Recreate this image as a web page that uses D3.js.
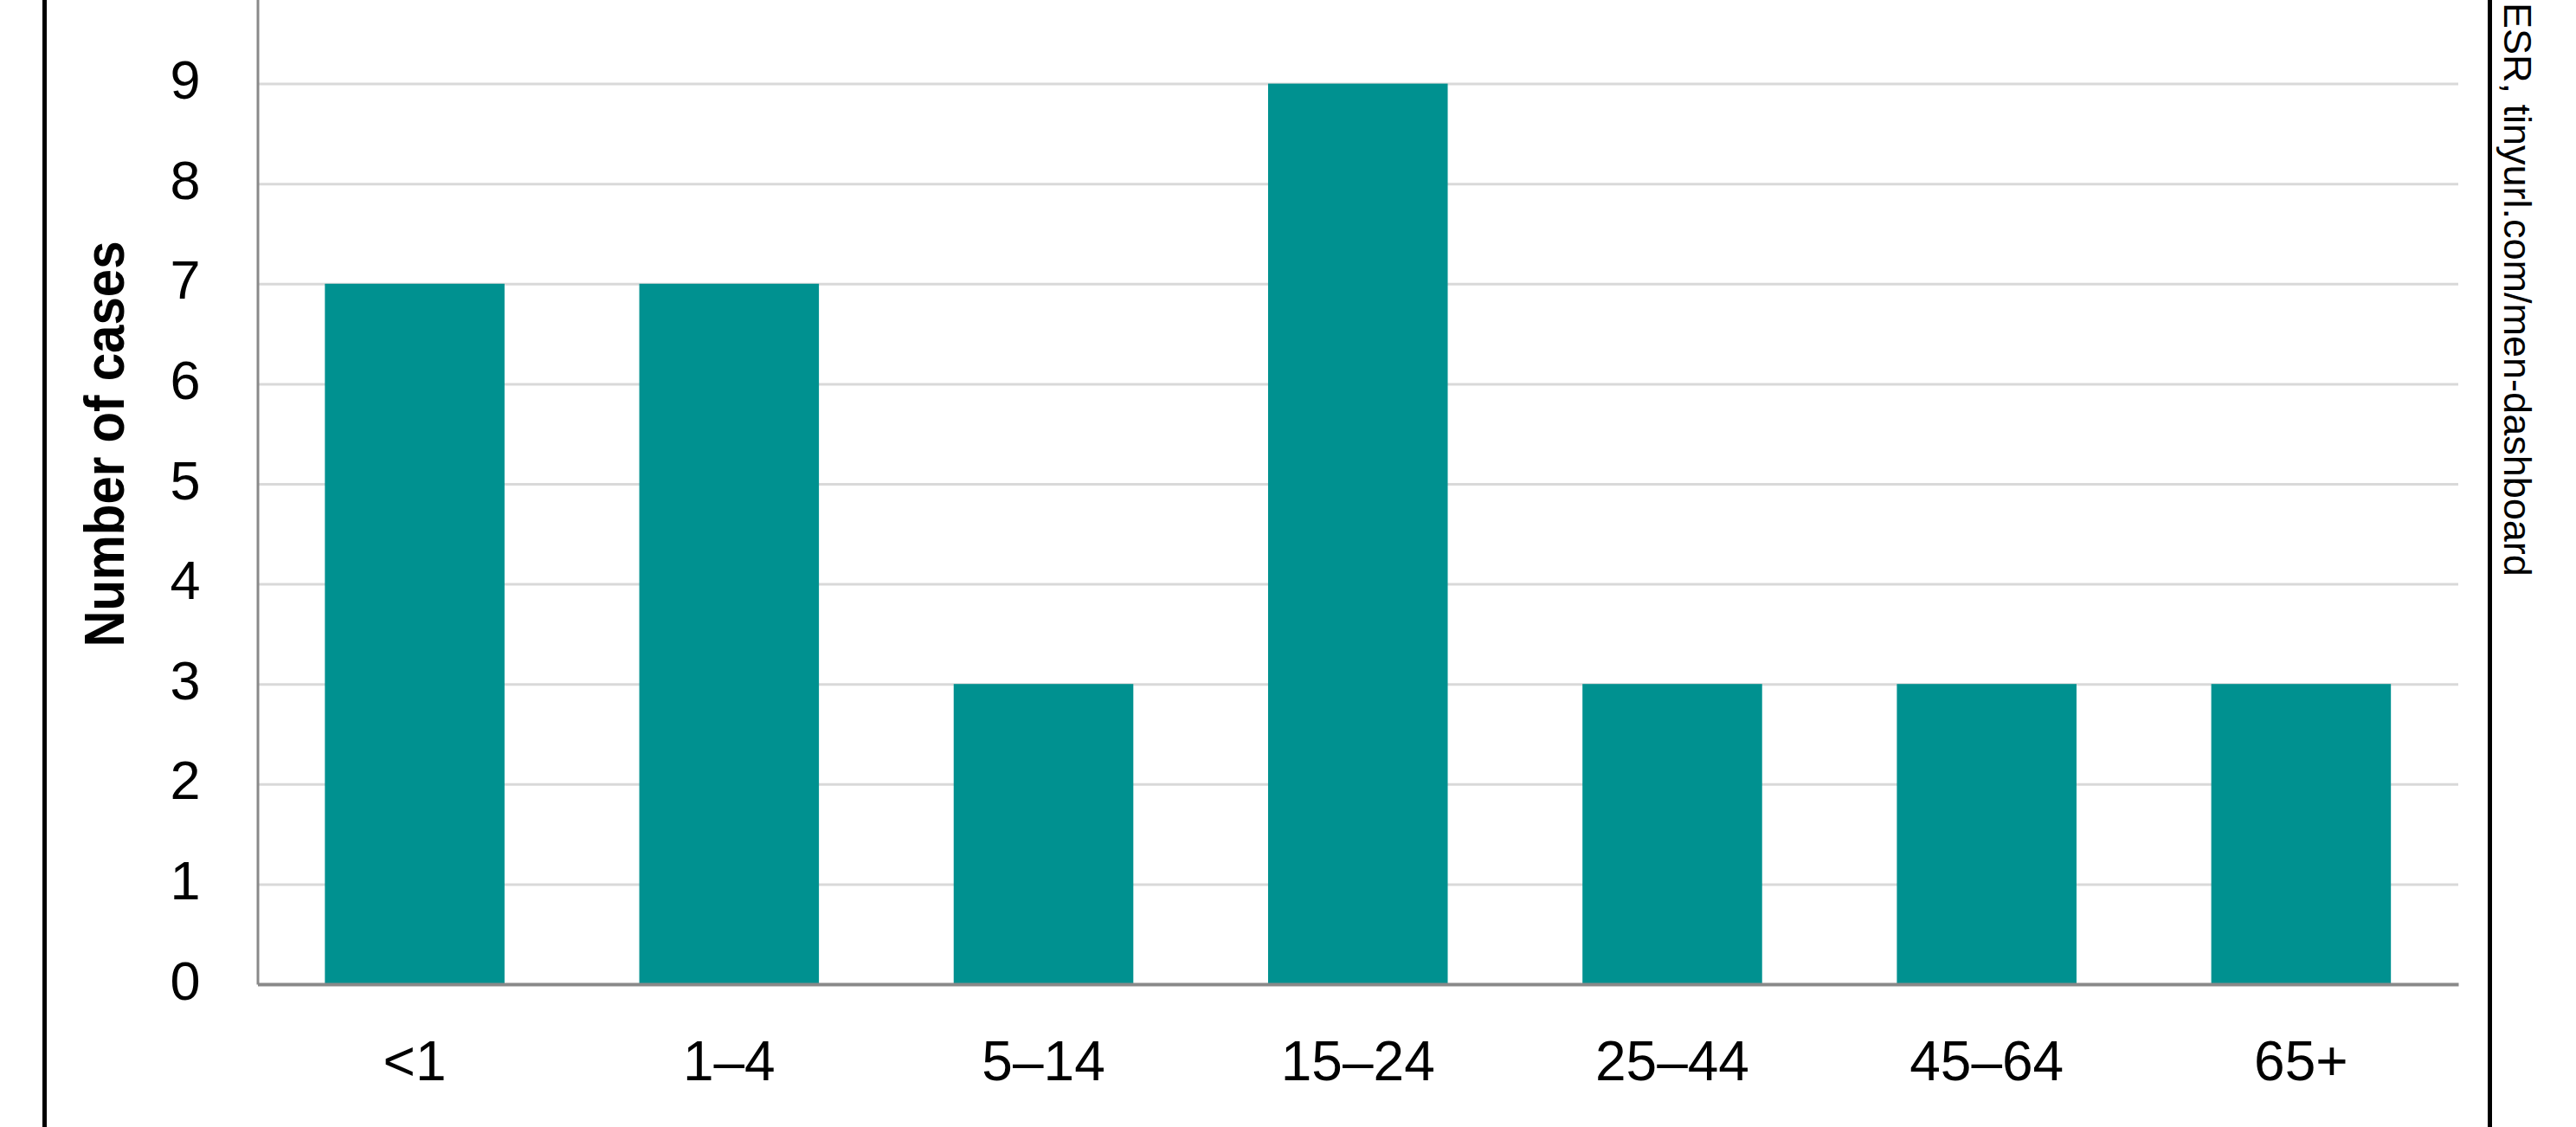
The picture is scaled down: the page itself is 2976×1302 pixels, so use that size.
<!DOCTYPE html>
<html>
<head>
<meta charset="utf-8">
<script src="https://cdn.jsdelivr.net/npm/d3@7"></script>
<style>
    body { margin: 0; background: #fff; }
    text { font-family: "Liberation Sans", Arial, sans-serif; fill: #000; }
</style>
</head>
<body>
<div id="chart"></div>
<script>

const ageGroups = ['<1', '1–4', '5–14', '15–24', '25–44', '45–64', '65+'];
const cases = [7, 7, 3, 9, 3, 3, 3];
const yTicks = [0, 1, 2, 3, 4, 5, 6, 7, 8, 9];
const yMax = 10;
const yTitle = 'Number of cases';
const sourceNote = 'ESR, tinyurl.com/men-dashboard';

// Set up the d3 canvas
function canvas() {
    const width = 2976;
    const height = 1302;
    const margin = {top: -19, right: 136, bottom: 165, left: 297.5};

    const svg = d3.select("#chart")
                    .append("svg")
                        .attr("width", width)
                        .attr("height", height);

    svg.append("rect")
        .attr("width", width)
        .attr("height", height)
        .attr("fill", "#fff");

    const xScale = d3.scaleBand()
        .domain(ageGroups)
        .range([margin.left, width - margin.right])
        .paddingInner(0.4286)
        .paddingOuter(0.2143);

    const yScale = d3.scaleLinear()
        .domain([0, yMax])
        .range([height - margin.bottom, margin.top]);

    return { svg, xScale, yScale, width, height };
}

function drawGrid(svg, xScale, yScale) {
    const [x0, x1] = xScale.range();
    svg.append("g")
        .attr("transform", "translate(" + x0 + ",0)")
        .call(d3.axisLeft(yScale).tickValues(yTicks.filter(d => d > 0)).tickSize(-(x1 - x0)).tickFormat(""))
        .call(g => g.select(".domain").remove())
        .call(g => g.selectAll("line").attr("stroke", "#d9d9d9").attr("stroke-width", 3));
}

// Bars
function plot(svg, xScale, yScale) {
    svg.selectAll(".bar")
        .data(cases)
        .enter().append("rect")
        .attr("class", "bar")
        .attr("x", (d, i) => xScale(ageGroups[i]))
        .attr("y", (d) => yScale(d))
        .attr("width", xScale.bandwidth())
        .attr("height", (d) => yScale(0) - yScale(d))
        .attr("fill", "#009190");
}

function drawAxes(svg, xScale, yScale) {
    const [x0, x1] = xScale.range();

    const yAxis = svg.append("g")
        .attr("transform", "translate(" + x0 + ",0)")
        .call(d3.axisLeft(yScale).tickValues(yTicks).tickSize(0).tickPadding(66).tickFormat(d3.format("d")));
    yAxis.select(".domain").attr("stroke", "#898989").attr("stroke-width", 3);
    yAxis.selectAll("text")
        .attr("dy", "17px")
        .style("font-size", "63px");

    const xAxis = svg.append("g")
        .attr("transform", "translate(0," + yScale(0) + ")")
        .call(d3.axisBottom(xScale).tickSize(0).tickPadding(0));
    xAxis.select(".domain").attr("stroke", "#898989").attr("stroke-width", 4);
    xAxis.selectAll("text")
        .attr("y", 0)
        .attr("dy", "111px")
        .style("font-size", "64px");

    svg.append("text")
        .attr("transform", "translate(143,513) rotate(-90)")
        .attr("text-anchor", "middle")
        .attr("textLength", 469)
        .attr("lengthAdjust", "spacingAndGlyphs")
        .style("font-size", "64px")
        .style("font-weight", "bold")
        .text(yTitle);
}

function drawFrame(svg, width, height) {
    [51.5, 2876.5].forEach((x) => {
        svg.append("line")
            .attr("x1", x).attr("x2", x)
            .attr("y1", 0).attr("y2", height)
            .attr("stroke", "#000")
            .attr("stroke-width", 5);
    });

    svg.append("text")
        .attr("transform", "translate(2893,3) rotate(90)")
        .attr("text-anchor", "start")
        .style("font-size", "45px")
        .text(sourceNote);
}

function main() {
    const { svg, xScale, yScale, width, height } = canvas();
    drawGrid(svg, xScale, yScale);
    plot(svg, xScale, yScale);
    drawAxes(svg, xScale, yScale);
    drawFrame(svg, width, height);
}

main();
</script>
</body>
</html>
